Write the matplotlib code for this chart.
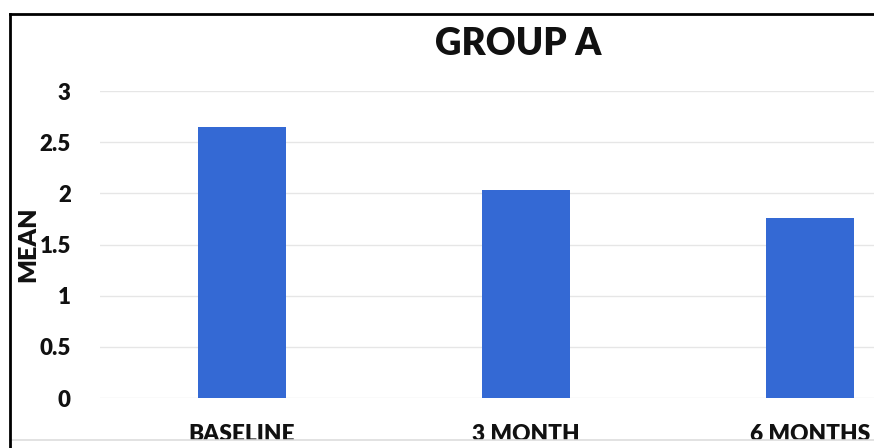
import matplotlib
matplotlib.use("Agg")
import matplotlib.pyplot as plt
from matplotlib.lines import Line2D
from matplotlib.patches import Rectangle

categories = ["BASELINE", "3 MONTH", "6 MONTHS"]
means = [2.65, 2.03, 1.76]
yticks = [0, 0.5, 1, 1.5, 2, 2.5, 3]
ytick_labels = ["0", "0.5", "1", "1.5", "2", "2.5", "3"]

W, H = 874, 448
plt.rcParams['font.family'] = ['Lato', 'DejaVu Sans']
fig = plt.figure(figsize=(W / 100, H / 100), dpi=100)
fig.patch.set_facecolor('white')

WT = 'heavy'
ax = fig.add_axes([100 / W, 50 / H, 852 / W, 307 / H])
x = list(range(len(categories)))
ax.bar(x, means, width=0.313, color='#3469D4', zorder=3)
ax.set_xlim(-0.5, 2.5)
ax.set_ylim(0, 3)
ax.set_yticks(yticks)
ax.set_yticklabels(ytick_labels, fontsize=16, fontweight=WT, color='#111111')
ax.set_xticks(x)
ax.set_xticklabels(categories, fontsize=16.3, fontweight=WT, color='#111111')
ax.tick_params(axis='y', length=0, pad=21)
ax.tick_params(axis='x', length=0, pad=18.5)
ax.grid(axis='y', color='#e6e6e6', linewidth=1, zorder=0)
for s in ax.spines.values():
    s.set_visible(False)

fig.text(518 / W, 1 - 55 / H, "GROUP A", fontsize=26.5, fontweight=WT,
         ha='center', va='baseline', color='#111111')
fig.text(28 / W, 1 - 244 / H, "MEAN", fontsize=18, fontweight=WT,
         rotation=90, ha='center', va='center', color='#111111')

# crop at bottom (white strip with light line)
fig.patches.append(Rectangle((0, 0), 1, 8 / H, transform=fig.transFigure,
                             facecolor='white', edgecolor='none', zorder=10))
fig.lines.append(Line2D([10 / W, 1], [1 - 440 / H, 1 - 440 / H], transform=fig.transFigure,
                        color='#dddddd', linewidth=1.2, zorder=11))
# black frame (top and left)
fig.lines.append(Line2D([10 / W, 1], [1 - 14 / H, 1 - 14 / H], transform=fig.transFigure,
                        color='black', linewidth=2, zorder=11))
fig.lines.append(Line2D([10 / W, 10 / W], [0, 1 - 14 / H], transform=fig.transFigure,
                        color='black', linewidth=2, zorder=11))

fig.savefig("out.png", dpi=100)
